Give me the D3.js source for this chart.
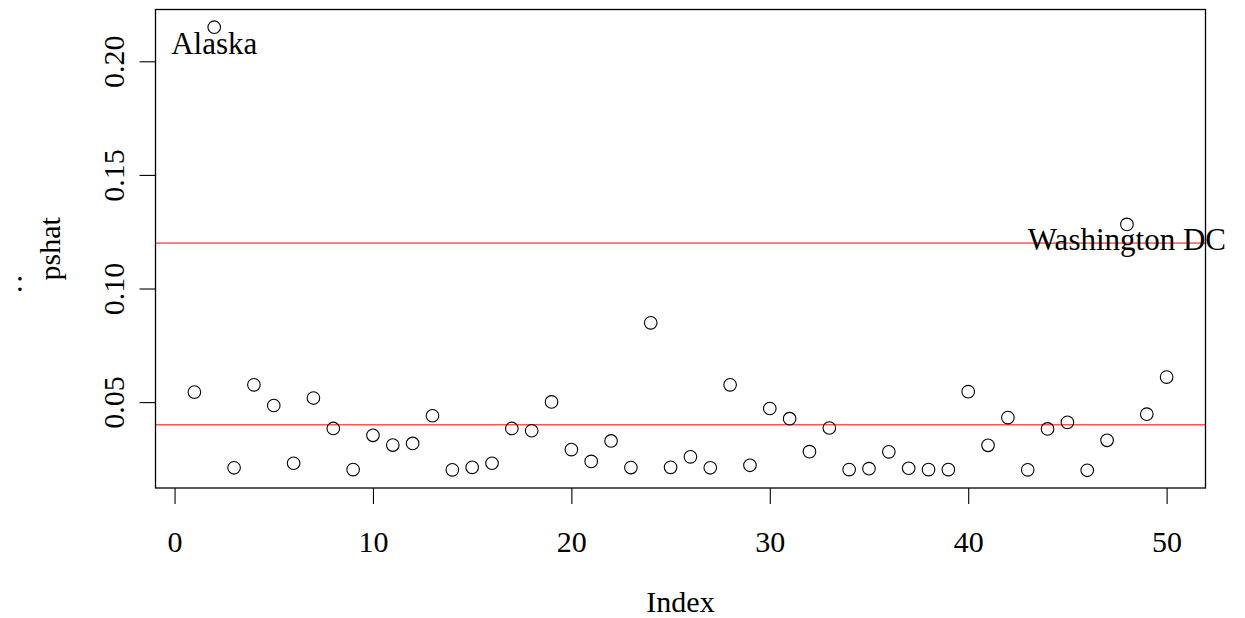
<!DOCTYPE html>
<html>
<head>
<meta charset="utf-8">
<script src="https://cdn.jsdelivr.net/npm/d3@7"></script>
<style>
  html, body { margin: 0; padding: 0; background: #fff; }
  svg { display: block; }
  text { font-family: "Liberation Serif", "DejaVu Serif", serif; fill: #000; }
</style>
</head>
<body>
<svg id="chart" width="1245" height="618"></svg>
<script>
// Estimated proportion per state, in index order 1..50
const pshat = [
  0.0544, 0.2150, 0.0211, 0.0576, 0.0485, 0.0231, 0.0518, 0.0384, 0.0203, 0.0354,
  0.0311, 0.0318, 0.0440, 0.0202, 0.0213, 0.0231, 0.0384, 0.0374, 0.0501, 0.0291,
  0.0239, 0.0329, 0.0212, 0.0849, 0.0213, 0.0259, 0.0211, 0.0576, 0.0222, 0.0472,
  0.0427, 0.0282, 0.0386, 0.0203, 0.0207, 0.0281, 0.0209, 0.0203, 0.0203, 0.0546,
  0.0310, 0.0432, 0.0202, 0.0382, 0.0411, 0.0200, 0.0332, 0.1282, 0.0447, 0.0610
];
const index = pshat.map((d, i) => i + 1);

// Reference lines
const hLines = [0.04, 0.12];

// Labelled outliers
const labelIndex = [2, 48];
const labelText = ["Alaska", "Washington DC"];
const labelOffset = [-0.007, -0.0066];

// Axis ticks
const xTicks = [0, 10, 20, 30, 40, 50];
const yTicks = [0.05, 0.10, 0.15, 0.20];
const yTickLabels = ["0.05", "0.10", "0.15", "0.20"];

const box = { left: 155.5, right: 1205.5, top: 9.5, bottom: 488 };
const svg = d3.select("#chart");

// R-style 4% padding around the data range
function padded(ext) {
  const p = (ext[1] - ext[0]) * 0.04;
  return [ext[0] - p, ext[1] + p];
}

const x = d3.scaleLinear().domain(padded(d3.extent(index))).range([box.left, box.right]);
const y = d3.scaleLinear().domain(padded(d3.extent(pshat))).range([box.bottom, box.top]);

// Horizontal reference lines
svg.append("g").selectAll("line").data(hLines).join("line")
  .attr("x1", box.left).attr("x2", box.right)
  .attr("y1", d => y(d)).attr("y2", d => y(d))
  .attr("stroke", "#ff0000").attr("stroke-width", 1);

// Points
svg.append("g").selectAll("circle").data(pshat).join("circle")
  .attr("cx", (d, i) => x(index[i]))
  .attr("cy", d => y(d))
  .attr("r", 6.3)
  .attr("fill", "none")
  .attr("stroke", "#000")
  .attr("stroke-width", 1.1);

// Point labels
svg.append("g").selectAll("text").data(labelIndex).join("text")
  .attr("x", d => x(d))
  .attr("y", (d, i) => y(pshat[d - 1] + labelOffset[i]))
  .attr("dy", "0.34em")
  .attr("text-anchor", "middle")
  .attr("font-size", 31)
  .text((d, i) => labelText[i]);

// Plot frame
svg.append("rect")
  .attr("x", box.left).attr("y", box.top)
  .attr("width", box.right - box.left).attr("height", box.bottom - box.top)
  .attr("fill", "none").attr("stroke", "#000").attr("stroke-width", 1.3);

// Bottom axis
const xAxis = svg.append("g")
  .attr("transform", `translate(0,${box.bottom})`)
  .call(d3.axisBottom(x).tickValues(xTicks).tickFormat(d3.format("d")).tickSize(16).tickSizeOuter(0));
xAxis.select(".domain").remove();
xAxis.selectAll(".tick line").attr("stroke", "#000").attr("stroke-width", 1.1);
xAxis.selectAll(".tick text")
  .attr("y", 64).attr("dy", 0)
  .attr("font-size", 30)
  .style("font-family", "\"Liberation Serif\", serif");

// Left axis with rotated labels
const yAxis = svg.append("g")
  .attr("transform", `translate(${box.left},0)`)
  .call(d3.axisLeft(y).tickValues(yTicks).tickFormat((d, i) => yTickLabels[i]).tickSize(16).tickSizeOuter(0));
yAxis.select(".domain").remove();
yAxis.selectAll(".tick line").attr("stroke", "#000").attr("stroke-width", 1.1);
yAxis.selectAll(".tick text")
  .attr("x", null).attr("dy", null)
  .attr("text-anchor", "middle")
  .attr("transform", "translate(-32,0) rotate(-90)")
  .attr("y", 0)
  .attr("font-size", 30)
  .style("font-family", "\"Liberation Serif\", serif");

// Axis titles
svg.append("text")
  .attr("x", (box.left + box.right) / 2).attr("y", 612)
  .attr("text-anchor", "middle").attr("font-size", 30)
  .text("Index");

svg.append("text")
  .attr("transform", `translate(60,${(box.top + box.bottom) / 2}) rotate(-90)`)
  .attr("text-anchor", "middle").attr("font-size", 30)
  .text("pshat");

svg.append("text")
  .attr("x", 20).attr("y", 291)
  .attr("text-anchor", "middle").attr("font-size", 30)
  .text(":");
</script>
</body>
</html>
